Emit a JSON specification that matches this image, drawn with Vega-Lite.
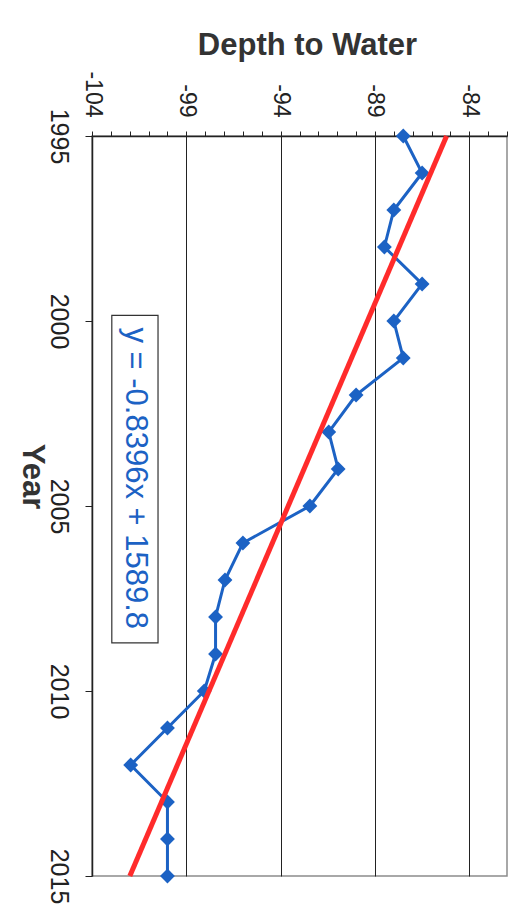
{
  "$schema": "https://vega.github.io/schema/vega-lite/v6.json",
  "width": 415,
  "height": 740,
  "autosize": "none",
  "padding": {"left": 92, "top": 136, "right": 7, "bottom": 42},
  "background": "white",
  "config": {
    "view": {"stroke": "#8c8c8c", "strokeWidth": 1.5},
    "font": "Liberation Sans"
  },
  "datasets": {
    "series": [
      {"year": 1995, "depth": -87.5},
      {"year": 1996, "depth": -86.5},
      {"year": 1997, "depth": -88.0},
      {"year": 1998, "depth": -88.5},
      {"year": 1999, "depth": -86.5},
      {"year": 2000, "depth": -88.0},
      {"year": 2001, "depth": -87.5},
      {"year": 2002, "depth": -90.0},
      {"year": 2003, "depth": -91.45},
      {"year": 2004, "depth": -90.95},
      {"year": 2005, "depth": -92.45},
      {"year": 2006, "depth": -96.0},
      {"year": 2007, "depth": -96.95},
      {"year": 2008, "depth": -97.45},
      {"year": 2009, "depth": -97.45},
      {"year": 2010, "depth": -98.05},
      {"year": 2011, "depth": -100.0},
      {"year": 2012, "depth": -101.95},
      {"year": 2013, "depth": -100.0},
      {"year": 2014, "depth": -100.0},
      {"year": 2015, "depth": -100.0}
    ],
    "trend": [
      {"year": 1995, "depth": -85.202},
      {"year": 2015, "depth": -101.994}
    ],
    "box": [
      {"year": 1999.85, "year2": 2008.7, "depth": -102.95, "depth2": -100.5}
    ],
    "eq": [
      {"year": 2004.25, "depth": -101.72, "label": "y = -0.8396x + 1589.8"}
    ]
  },
  "encoding": {
    "x": {
      "field": "depth",
      "type": "quantitative",
      "scale": {"domain": [-104, -82], "nice": false, "zero": false},
      "axis": {
        "orient": "top",
        "values": [-104, -103, -102, -101, -100, -99, -98, -97, -96, -95, -94, -93, -92, -91, -90, -89, -88, -87, -86, -85, -84, -83, -82],
        "title": "Depth to Water",
        "titleFontSize": 31,
        "titleFontWeight": "bold",
        "titleColor": "#333333",
        "titleAngle": 0,
        "titleX": 215,
        "titleY": -82,
        "titleAlign": "center",
        "titleBaseline": "alphabetic",
        "labelExpr": "((datum.value + 104) % 5 == 0 && datum.value < -83) ? '-' + abs(datum.value) : ''",
        "labelAngle": 90,
        "labelAlign": "right",
        "labelBaseline": "middle",
        "labelFontSize": 23,
        "labelColor": "#222222",
        "labelPadding": 14,
        "labelOverlap": false,
        "labelFlush": false,
        "tickSize": 5,
        "tickColor": "#222222",
        "tickWidth": 1,
        "domainColor": "#222222",
        "domainWidth": 1.5,
        "grid": true,
        "gridColor": "#222222",
        "gridWidth": 1,
        "gridOpacity": {"condition": {"test": "(datum.value + 104) % 5 == 0 && datum.value > -103 && datum.value < -83", "value": 1}, "value": 0}
      }
    },
    "y": {
      "field": "year",
      "type": "quantitative",
      "scale": {"domain": [1995, 2015], "reverse": true, "nice": false, "zero": false},
      "axis": {
        "orient": "left",
        "values": [1995, 2000, 2005, 2010, 2015],
        "format": "d",
        "title": "Year",
        "titleFontSize": 31,
        "titleFontWeight": "bold",
        "titleColor": "#333333",
        "titleAngle": 90,
        "titleX": -70,
        "titleY": 340,
        "titleAlign": "center",
        "titleBaseline": "alphabetic",
        "labelAngle": 90,
        "labelAlign": "center",
        "labelBaseline": "top",
        "labelFontSize": 25,
        "labelColor": "#222222",
        "labelPadding": 15,
        "labelOverlap": false,
        "labelFlush": false,
        "tickSize": 7,
        "tickColor": "#222222",
        "domainColor": "#222222",
        "domainWidth": 1.5,
        "grid": false
      }
    }
  },
  "layer": [
    {
      "data": {"name": "series"},
      "mark": {"type": "line", "color": "#1c62c4", "strokeWidth": 3},
      "encoding": {
        "order": {"field": "year", "type": "quantitative"}
      }
    },
    {
      "data": {"name": "series"},
      "mark": {"type": "point", "shape": "diamond", "filled": true, "opacity": 1, "color": "#1c62c4", "size": 220}
    },
    {
      "data": {"name": "trend"},
      "mark": {"type": "line", "color": "#ff2b2b", "strokeWidth": 5},
      "encoding": {
        "order": {"field": "year", "type": "quantitative"}
      }
    },
    {
      "data": {"name": "box"},
      "mark": {"type": "rect", "fill": "white", "stroke": "#333333", "strokeWidth": 1.2},
      "encoding": {
        "x2": {"field": "depth2"},
        "y2": {"field": "year2"}
      }
    },
    {
      "data": {"name": "eq"},
      "mark": {"type": "text", "angle": 90, "align": "center", "baseline": "middle", "fontSize": 31, "color": "#1c62c4"},
      "encoding": {
        "text": {"field": "label"}
      }
    }
  ]
}
